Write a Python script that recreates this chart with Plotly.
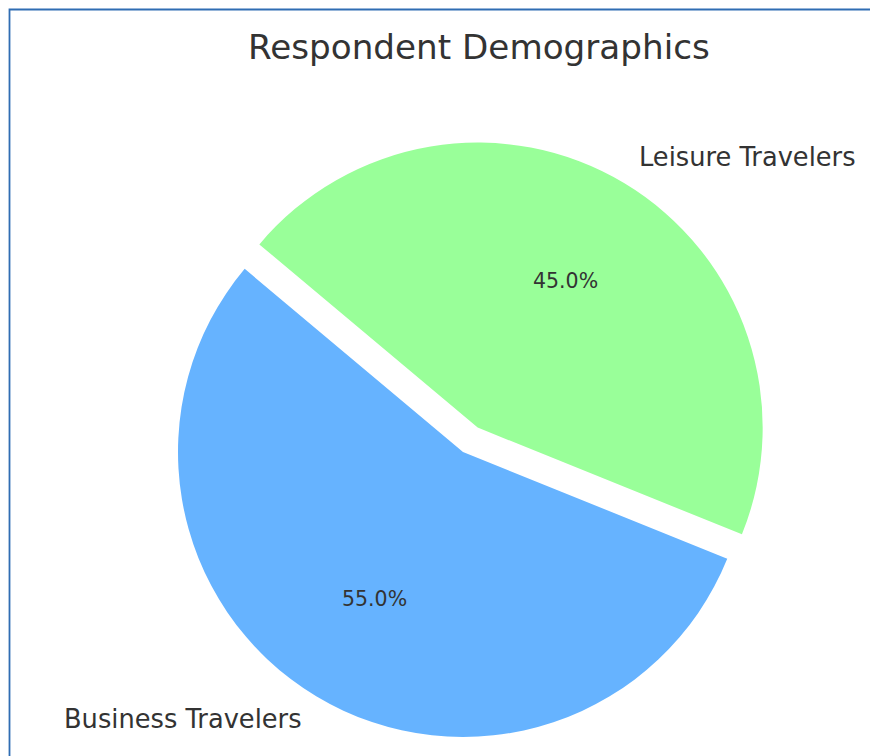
import math
import plotly.graph_objects as go

# ---- data ----
labels = ["Business Travelers", "Leisure Travelers"]
values = [55, 45]
colors = ["#66b3ff", "#99ff99"]
explode = [0.0, 0.1]
title_text = "Respondent Demographics"

# ---- layout constants (pixels) ----
W, H = 870, 756
CX, CY = 463.0, 452.0      # pie centre
R = 285.0                  # pie radius
START = 140.0              # start angle (deg, CCW from +x)
PCT_DIST = 0.6
LABEL_DIST = 1.1
TEXT_COLOR = "#333333"

total = float(sum(values))
# plotly (counterclockwise): first slice ends at `rotation` (clock angle from 12 o'clock)
rotation = 90.0 - START - 360.0 * values[0] / total
rotation = ((rotation + 180.0) % 360.0) - 180.0

fig = go.Figure()
annotations = []

angle = START
for i, (lab, val, col, ex) in enumerate(zip(labels, values, colors, explode)):
    span = 360.0 * val / total
    mid = math.radians(angle + span / 2.0)
    angle += span
    # centre of this (possibly exploded) wedge
    cx = CX + ex * R * math.cos(mid)
    cy = CY - ex * R * math.sin(mid)
    slice_colors = [c if j == i else "rgba(0,0,0,0)" for j, c in enumerate(colors)]
    fig.add_trace(go.Pie(
        labels=labels, values=values, sort=False,
        direction="counterclockwise", rotation=rotation,
        marker=dict(colors=slice_colors, line=dict(width=0)),
        textinfo="none", hoverinfo="skip", showlegend=False,
        domain=dict(x=[(cx - R) / W, (cx + R) / W],
                    y=[1 - (cy + R) / H, 1 - (cy - R) / H]),
    ))
    # percentage text
    px = cx + PCT_DIST * R * math.cos(mid)
    py = cy - PCT_DIST * R * math.sin(mid)
    annotations.append(dict(
        x=px / W, y=1 - py / H, xref="paper", yref="paper",
        text=f"{100.0 * val / total:.1f}%", showarrow=False,
        xanchor="center", yanchor="middle",
        font=dict(family="DejaVu Sans", size=20.5, color=TEXT_COLOR)))
    # outer label
    lx = cx + LABEL_DIST * R * math.cos(mid)
    ly = cy - LABEL_DIST * R * math.sin(mid)
    left_side = math.cos(mid) < 0
    annotations.append(dict(
        x=lx / W, y=1 - ly / H, xref="paper", yref="paper",
        text=lab, showarrow=False,
        xanchor="right" if left_side else "left", yanchor="middle",
        xshift=2 if left_side else -2, yshift=1.5,
        font=dict(family="DejaVu Sans", size=25.7, color=TEXT_COLOR)))

# title
annotations.append(dict(
    x=478.5 / W, y=1 - 47.0 / H, xref="paper", yref="paper",
    text=title_text, showarrow=False, xanchor="center", yanchor="middle",
    font=dict(family="DejaVu Sans", size=34.2, color=TEXT_COLOR)))

fig.update_layout(
    width=W, height=H,
    margin=dict(l=0, r=0, t=0, b=0),
    paper_bgcolor="white", plot_bgcolor="white",
    annotations=annotations,
    shapes=[dict(type="path", xref="paper", yref="paper",
                 path=f"M {9.5 / W} 0 L {9.5 / W} {1 - 9.5 / H} L 1 {1 - 9.5 / H}",
                 line=dict(color="#2f6db3", width=1.8))],
)

fig.write_html("out.html")
